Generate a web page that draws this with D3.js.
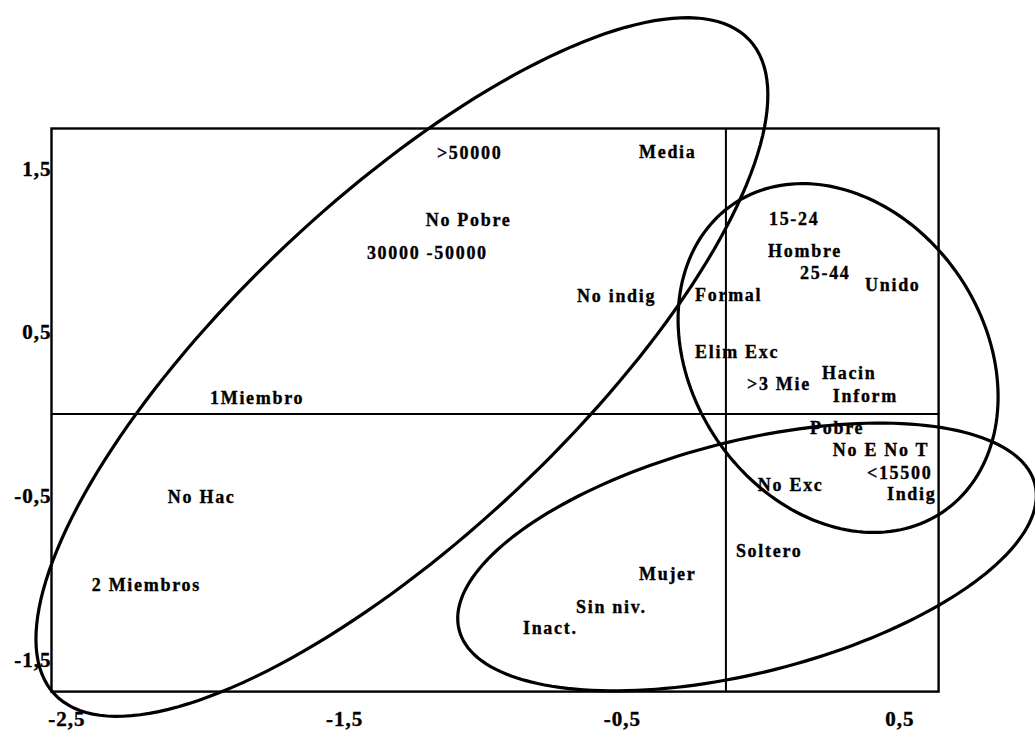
<!DOCTYPE html>
<html>
<head>
<meta charset="utf-8">
<script src="https://cdn.jsdelivr.net/npm/d3@7"></script>
<style>
  html, body { margin: 0; padding: 0; background: #fff; }
  svg { display: block; }
  .lbl { font-family: "Liberation Serif", "Times New Roman", serif; font-weight: bold; font-size: 18px; letter-spacing: 1.7px; fill: #000; stroke: #000; stroke-width: 0.35px; }
  .tick text { font-family: "Liberation Serif", "Times New Roman", serif; font-weight: bold; font-size: 21px; letter-spacing: 1px; fill: #000; stroke: #000; stroke-width: 0.4px; }
</style>
</head>
<body>
<svg id="chart" width="1035" height="733"></svg>
<script>
// ---- data ----
const xTicks = [-2.5, -1.5, -0.5, 0.5];
const yTicks = [1.5, 0.5, -0.5, -1.5];
const xDomain = [-2.554, 0.641];
const yDomain = [-1.697, 1.745];
const refX = -0.125;   // vertical reference line
const refY = 0;        // horizontal reference line

const labelNames = [">50000", "Media", "No Pobre", "30000 -50000", "No indig", "Formal",
  "15-24", "Hombre", "25-44", "Unido", "Elim Exc", ">3 Mie", "Hacin", "Inform",
  "Pobre", "No E No T", "<15500", "No Exc", "Indig", "1Miembro", "No Hac",
  "2 Miembros", "Soltero", "Mujer", "Sin niv.", "Inact."];
const labelX = [-1.166, -0.438, -1.206, -1.418, -0.661, -0.236,
  0.030, 0.027, 0.142, 0.376, -0.236, -0.049, 0.221, 0.260,
  0.178, 0.260, 0.383, -0.010, 0.455, -1.983, -2.135,
  -2.409, -0.089, -0.438, -0.665, -0.856];
const labelY = [1.595, 1.601, 1.186, 0.984, 0.721, 0.727,
  1.192, 0.996, 0.862, 0.789, 0.379, 0.183, 0.251, 0.110,
  -0.086, -0.220, -0.361, -0.434, -0.489, 0.098, -0.507,
  -1.045, -0.837, -0.978, -1.180, -1.308];

// ellipses: centre and two conjugate semi-axis vectors (data units)
const ellipseCenter = [[-1.292, 0.287], [0.279, 0.342], [-0.049, -0.874]];
const ellipseAxisA  = [[1.251, 2.000], [0.378, -0.940], [1.037, 0.445]];
const ellipseAxisB  = [[0.415, -0.748], [-0.435, -0.503], [0.102, -0.687]];

// ---- drawing ----
const svg = d3.select("#chart");
const x = d3.scaleLinear().domain(xDomain).range([51.5, 938.6]);
const y = d3.scaleLinear().domain(yDomain).range([691.6, 128.5]);
const fmt = v => v.toFixed(1).replace(".", ",");

// frame
svg.append("rect")
  .attr("x", x(xDomain[0])).attr("y", y(yDomain[1]))
  .attr("width", x(xDomain[1]) - x(xDomain[0]))
  .attr("height", y(yDomain[0]) - y(yDomain[1]))
  .attr("fill", "none").attr("stroke", "#000").attr("stroke-width", 2.4);

// reference lines
svg.append("line")
  .attr("x1", x(refX)).attr("x2", x(refX))
  .attr("y1", y(yDomain[1])).attr("y2", y(yDomain[0]))
  .attr("stroke", "#000").attr("stroke-width", 2);
svg.append("line")
  .attr("x1", x(xDomain[0])).attr("x2", x(xDomain[1]))
  .attr("y1", y(refY)).attr("y2", y(refY))
  .attr("stroke", "#000").attr("stroke-width", 2);

// axes
const gx = svg.append("g").attr("transform", `translate(0,${y(yDomain[0])})`)
  .call(d3.axisBottom(x).tickValues(xTicks).tickFormat(fmt).tickSize(0).tickPadding(19));
gx.select(".domain").remove();
const gy = svg.append("g").attr("transform", `translate(${x(xDomain[0])},0)`)
  .call(d3.axisLeft(y).tickValues(yTicks).tickFormat(fmt).tickSize(0).tickPadding(0));
gy.select(".domain").remove();

// labels
svg.append("g").selectAll("text")
  .data(labelNames)
  .join("text")
  .attr("class", "lbl")
  .attr("x", (d, i) => x(labelX[i]))
  .attr("y", (d, i) => y(labelY[i]))
  .attr("dy", "0.35em")
  .text(d => d);

// ellipses
const line = d3.line().x(p => x(p[0])).y(p => y(p[1])).curve(d3.curveLinearClosed);
const ts = d3.range(0, 2 * Math.PI, Math.PI / 90);
ellipseCenter.forEach((c, i) => {
  const A = ellipseAxisA[i], B = ellipseAxisB[i];
  const pts = ts.map(t => [c[0] + A[0] * Math.cos(t) + B[0] * Math.sin(t),
                           c[1] + A[1] * Math.cos(t) + B[1] * Math.sin(t)]);
  svg.append("path").attr("d", line(pts))
    .attr("fill", "none").attr("stroke", "#000").attr("stroke-width", 3.2);
});
</script>
</body>
</html>
